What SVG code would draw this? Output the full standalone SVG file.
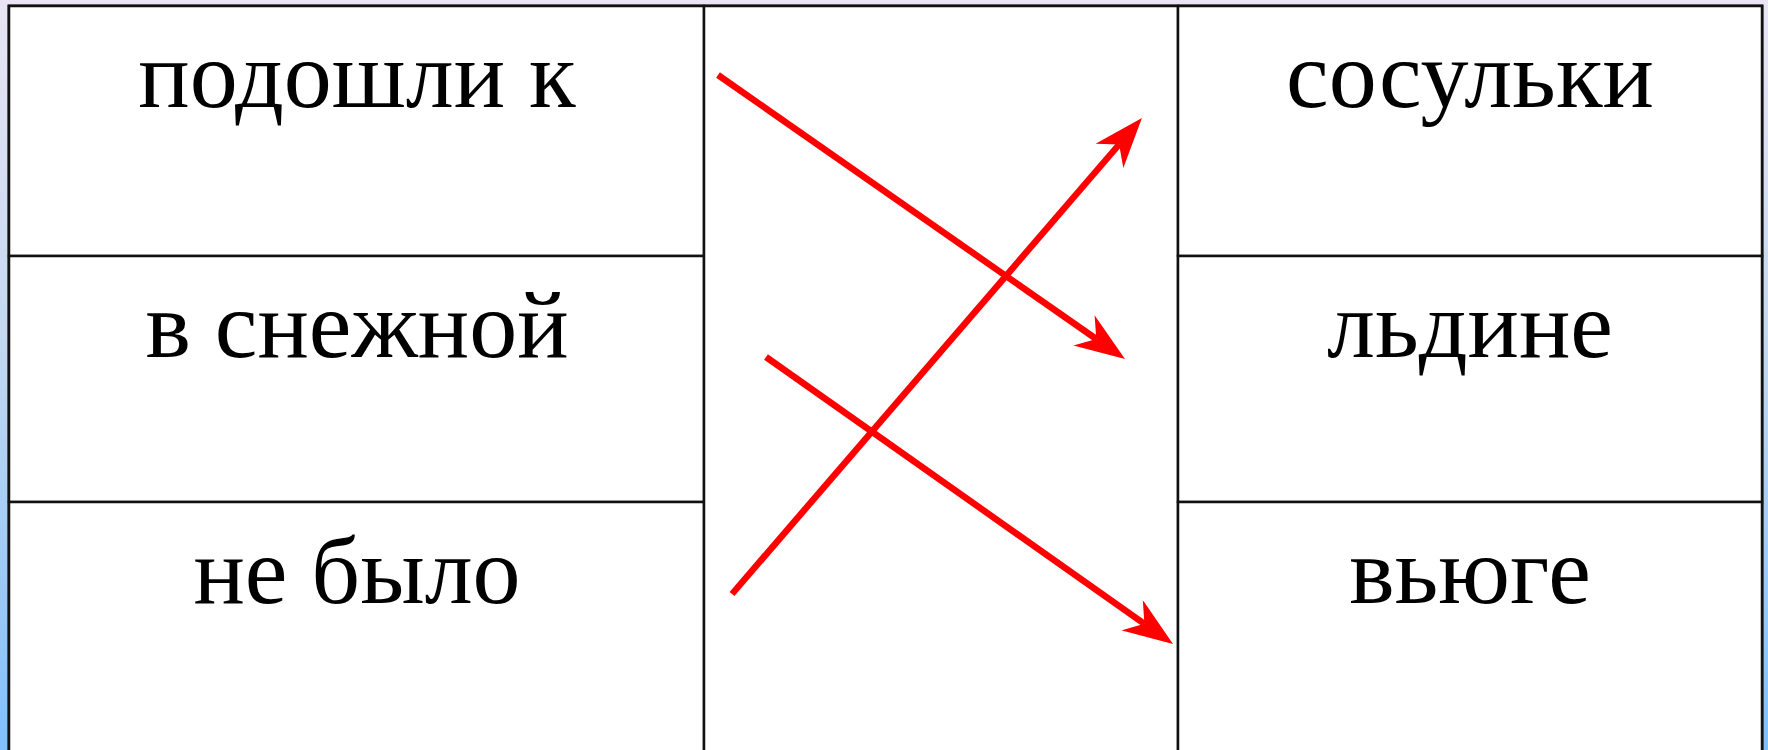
<svg xmlns="http://www.w3.org/2000/svg" width="1768" height="750" viewBox="0 0 1768 750">
<defs>
<linearGradient id="bg" x1="0" y1="0" x2="0" y2="1">
<stop offset="0" stop-color="#e9e5f4"/>
<stop offset="0.45" stop-color="#c4d8f0"/>
<stop offset="1" stop-color="#80c0fc"/>
</linearGradient>
<marker id="ah" viewBox="0 0 50 37" refX="15" refY="18.5" markerWidth="50" markerHeight="37" markerUnits="userSpaceOnUse" orient="auto">
<path d="M50,18.5 L0,0 L15,18.5 L0,37 Z" fill="#ff0000"/>
</marker>
<style>
.cell{fill:#ffffff;stroke:#111111;stroke-width:2.5}
.t{font-family:"Liberation Serif","Times New Roman",serif;font-size:96px;fill:#000000;text-anchor:middle}
.arr{stroke:#ff0000;stroke-width:6.5;fill:none;marker-end:url(#ah)}
</style>
</defs>
<rect x="0" y="0" width="1768" height="750" fill="url(#bg)"/>
<rect x="9" y="6" width="1753" height="760" fill="#ffffff" stroke="#111111" stroke-width="3"/>
<g id="left-1"><rect class="cell" x="9" y="6" width="695" height="250"/><text class="t" x="357" y="107">подошли к</text></g>
<g id="left-2"><rect class="cell" x="9" y="256" width="695" height="246"/><text class="t" x="357" y="357">в снежной</text></g>
<g id="left-3"><rect class="cell" x="9" y="502" width="695" height="264"/><text class="t" x="357" y="603">не было</text></g>
<g id="middle"><rect class="cell" x="704" y="6" width="474" height="760"/></g>
<g id="right-1"><rect class="cell" x="1178" y="6" width="584" height="250"/><text class="t" x="1470" y="107">сосульки</text></g>
<g id="right-2"><rect class="cell" x="1178" y="256" width="584" height="246"/><text class="t" x="1470" y="357">льдине</text></g>
<g id="right-3"><rect class="cell" x="1178" y="502" width="584" height="264"/><text class="t" x="1470" y="603">вьюге</text></g>
<g id="connectors">
<line class="arr" x1="718" y1="75" x2="1096.3" y2="339"/>
<line class="arr" x1="732" y1="594" x2="1119.1" y2="144.5"/>
<line class="arr" x1="766" y1="357" x2="1144.4" y2="623.8"/>
</g>
</svg>
